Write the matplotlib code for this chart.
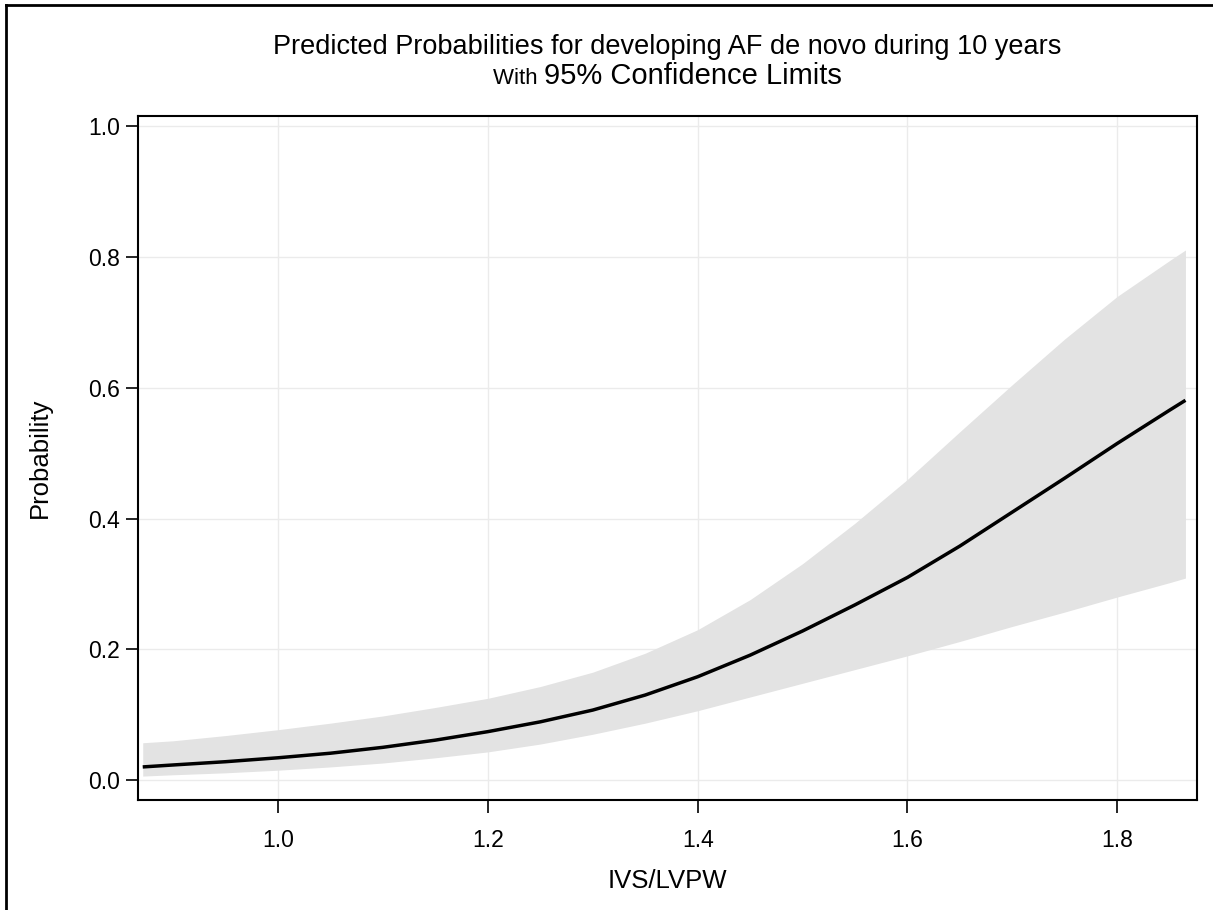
import matplotlib
matplotlib.use("Agg")
import matplotlib.pyplot as plt
from matplotlib.lines import Line2D

plt.rcParams['font.family'] = ['Liberation Sans', 'DejaVu Sans']

# Data
ivs_lvpw = [0.871, 0.90, 0.95, 1.00, 1.05, 1.10, 1.15, 1.20, 1.25, 1.30, 1.35,
            1.40, 1.45, 1.50, 1.55, 1.60, 1.65, 1.70, 1.75, 1.80, 1.85, 1.865]
prob     = [0.020, 0.023, 0.028, 0.034, 0.041, 0.050, 0.061, 0.074, 0.089, 0.107, 0.130,
            0.158, 0.191, 0.228, 0.268, 0.310, 0.358, 0.410, 0.462, 0.515, 0.566, 0.581]
upper_cl = [0.057, 0.060, 0.068, 0.077, 0.087, 0.098, 0.111, 0.125, 0.143, 0.165, 0.194,
            0.230, 0.276, 0.331, 0.393, 0.460, 0.533, 0.605, 0.675, 0.740, 0.795, 0.811]
lower_cl = [0.006, 0.008, 0.011, 0.015, 0.020, 0.026, 0.034, 0.043, 0.055, 0.070, 0.087,
            0.106, 0.127, 0.148, 0.169, 0.190, 0.212, 0.235, 0.257, 0.280, 0.302, 0.309]
x_ticks = [1.0, 1.2, 1.4, 1.6, 1.8]
y_ticks = [0.0, 0.2, 0.4, 0.6, 0.8, 1.0]

W, H = 1213, 910
fig = plt.figure(figsize=(W / 100, H / 100), dpi=100)
ax = fig.add_axes([138 / W, 1 - 800 / H, (1197 - 138) / W, (800 - 116) / H])

ax.fill_between(ivs_lvpw, lower_cl, upper_cl, color='#e3e3e3', linewidth=0, zorder=2)
ax.plot(ivs_lvpw, prob, color='black', linewidth=2.5, zorder=3, solid_capstyle='butt')

ax.set_xlim(0.8665, 1.876)
ax.set_ylim(-0.0306, 1.016)
ax.set_xticks(x_ticks)
ax.set_yticks(y_ticks)
ax.set_xticklabels([f"{v:.1f}" for v in x_ticks])
ax.set_yticklabels([f"{v:.1f}" for v in y_ticks])
ax.grid(True, color='#ebebeb', linewidth=1.0, zorder=0)
ax.set_axisbelow(True)
for s in ax.spines.values():
    s.set_linewidth(1.5)
    s.set_color('black')
ax.tick_params(axis='both', direction='out', length=9, width=1.2, labelsize=16.5,
               colors='black')
ax.tick_params(axis='y', pad=4)
ax.tick_params(axis='x', pad=12)
ax.set_xlabel('IVS/LVPW', fontsize=18.5, labelpad=12)
ax.set_ylabel('Probability', fontsize=18.5, labelpad=26)

# Titles
cx = (138 + 1197) / 2 / W
fig.text(cx, 1 - 47 / H, 'Predicted Probabilities for developing AF de novo during 10 years',
         ha='center', va='center', fontsize=19.5)
fig.canvas.draw()
r = fig.canvas.get_renderer()
t1 = fig.text(0, 1 - 84 / H, 'With ', ha='left', va='baseline', fontsize=16)
t2 = fig.text(0, 1 - 84 / H, '95% Confidence Limits', ha='left', va='baseline', fontsize=21)
w1 = t1.get_window_extent(r).width / W
w2 = t2.get_window_extent(r).width / W
start = cx - (w1 + w2) / 2
t1.set_x(start)
t2.set_x(start + w1)

# Figure border (left and top)
fig.add_artist(Line2D([6 / W, 6 / W], [0, 1 - 5 / H], color='black', linewidth=2,
                      transform=fig.transFigure))
fig.add_artist(Line2D([6 / W, 1], [1 - 5 / H, 1 - 5 / H], color='black', linewidth=2,
                      transform=fig.transFigure))

fig.savefig('out.png', dpi=100)
